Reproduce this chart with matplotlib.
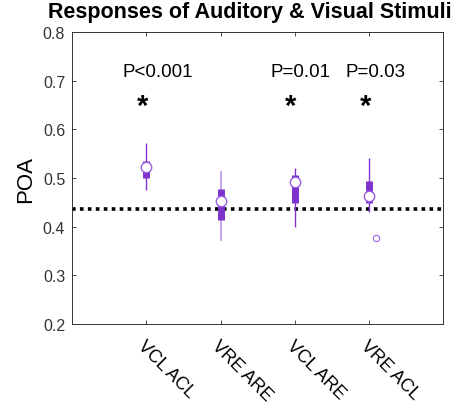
import numpy as np
import matplotlib
matplotlib.use("Agg")
import matplotlib.pyplot as plt

plt.rcParams['font.family'] = ['Liberation Sans', 'DejaVu Sans']

# condition labels and box stats
labels = ["VCL ACL", "VRE ARE", "VCL ARE", "VRE ACL"]
whisk_lo = [0.476, 0.371, 0.400, 0.430]
whisk_hi = [0.572, 0.515, 0.521, 0.541]
q1 = [0.500, 0.414, 0.449, 0.449]
q3 = [0.535, 0.478, 0.506, 0.494]
medians = [0.522, 0.453, 0.492, 0.463]
outlier_pos = [4]
outlier_val = [0.377]
chance = 0.436
p_texts = ["P<0.001", None, "P=0.01", "P=0.03"]

purple = '#7e33cf'
light = '#c9a6ef'
whisk_cols = [purple, light, purple, purple]

fig = plt.figure(figsize=(4.68, 4.1), dpi=100)
ax = fig.add_axes([0.154, 0.207, 0.793, 0.7125])

x = np.arange(1, len(labels) + 1)

ax.axhline(chance, color='black', lw=2.6, ls=(0, (1, 1.2)), zorder=1)

for i, xi in enumerate(x):
    ax.vlines(xi, whisk_lo[i], whisk_hi[i], color=whisk_cols[i],
              lw=1.4 if i == 1 else 1.0, zorder=2)
    ax.vlines(xi, q1[i], q3[i], color=purple, lw=5, zorder=3)
ax.plot(x, medians, 'o', ms=7.5, mfc='white', mec='#9a5fe0', mew=1.0,
        ls='none', zorder=4)
ax.plot(np.array(outlier_pos) + 0.09, outlier_val, 'o', ms=4.5, mfc='white',
        mec='#a66ee8', mew=0.9, ls='none', zorder=4)

for xi, t in zip(x, p_texts):
    if t is None:
        continue
    ax.text(xi - 0.32, 0.718, t, fontsize=13.5, ha='left', va='center')
    ax.text(xi - 0.05, 0.648, '*', fontsize=21, fontweight='bold',
            ha='center', va='center')

ax.set_xlim(0, 5)
ax.set_ylim(0.2, 0.8)
ax.set_xticks(x)
ax.set_xticklabels(labels, rotation=-45, ha='left', rotation_mode='anchor',
                   fontsize=13)
ax.set_yticks(np.arange(0.2, 0.81, 0.1))
ax.set_yticklabels([f"{v:.1f}" for v in np.arange(0.2, 0.81, 0.1)],
                   fontsize=11.5, color='#333333')
ax.tick_params(direction='in', top=True, right=True, length=3,
               width=0.6, color='#333333')
ax.tick_params(axis='x', pad=9)
ax.tick_params(axis='y', pad=5)
for s in ax.spines.values():
    s.set_linewidth(0.7)
    s.set_color('#333333')

ax.set_ylabel("POA", fontsize=16, labelpad=5)
ax.set_title("Responses of Auditory & Visual Stimuli", fontsize=15.5,
             fontweight='bold', pad=11, x=0.48)

fig.savefig("out.png", dpi=100)
